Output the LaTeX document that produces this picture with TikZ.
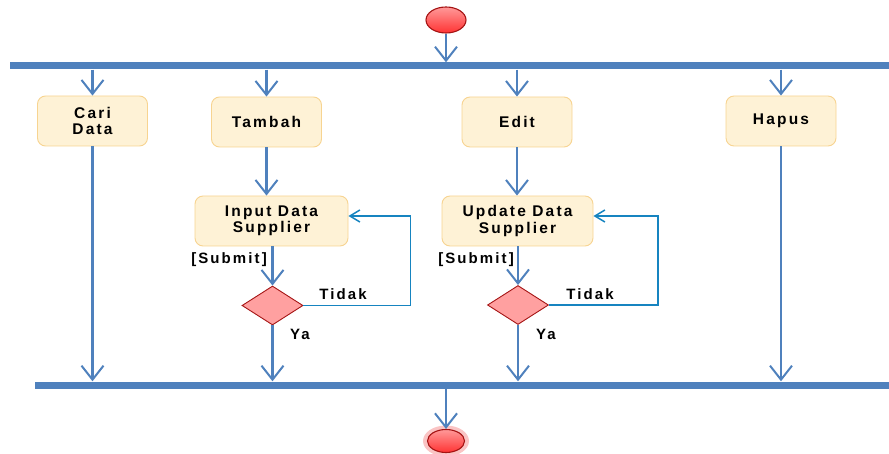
\documentclass[tikz,border=0pt]{standalone}
\usepackage{fontspec}
\usetikzlibrary{shapes.geometric,arrows.meta}
\newfontfamily\diagfont[LetterSpace=14]{Liberation Sans}

\definecolor{barblue}{RGB}{79,129,189}
\definecolor{loopblue}{RGB}{22,132,192}
\definecolor{actfill}{RGB}{254,242,214}
\definecolor{actborder}{RGB}{247,212,145}
\definecolor{decfill}{RGB}{255,160,160}
\definecolor{decborder}{RGB}{165,20,20}
\definecolor{halopink}{RGB}{250,196,196}

\tikzset{
    activity/.style={rectangle, rounded corners=8pt, draw=actborder, fill=actfill, line width=0.9pt,
        minimum width=110pt, minimum height=50pt, align=center, inner sep=2pt,
        font=\diagfont\bfseries\fontsize{15.5}{16.5}\selectfont},
    decision/.style={diamond, draw=decborder, fill=decfill, line width=0.9pt, inner sep=0pt,
        minimum width=61pt, minimum height=39pt},
    syncbar/.style={rectangle, fill=barblue, inner sep=0pt, minimum height=7pt},
    guard/.style={font=\diagfont\bfseries\fontsize{15}{16.5}\selectfont, inner sep=0pt},
    flow/.style={draw=barblue, line width=2.2pt, -{Straight Barb[length=14pt,width=22pt,line width=2pt]}},
    retry/.style={draw=loopblue, line width=1.5pt, -{Straight Barb[length=10pt,width=12pt,line width=1.5pt]}},
    terminal/.style={ellipse, draw=decborder, line width=1.1pt, top color=red!40, bottom color=red!80!white, inner sep=0pt}
}

\begin{document}
\begin{tikzpicture}[x=1pt,y=-1pt]
    \useasboundingbox (0,0) rectangle (889,454);

    % start and fork
    \node[terminal, minimum width=40pt, minimum height=26pt] (start) at (446,20) {};
    \node[syncbar, minimum width=879pt] (fork) at (449.5,66) {};

    % activities
    \node[activity] (cari) at (92.5,121) {Cari\\Data};
    \node[activity] (tambah) at (266.5,122) {Tambah};
    \node[activity, minimum width=153pt] (input) at (271.5,221) {Input Data\\Supplier};
    \node[activity] (edit) at (517,122) {Edit};
    \node[activity, minimum width=151pt] (update) at (517.5,221) {Update Data\\Supplier};
    \node[activity] (hapus) at (781,121) {Hapus};

    % decisions
    \node[decision] (cekinput) at (272.5,305.5) {};
    \node[decision] (cekupdate) at (518,305) {};

    % join and end
    \node[syncbar, minimum width=854pt] (join) at (462,385) {};
    \node[ellipse, fill=halopink, minimum width=46pt, minimum height=31pt] (endhalo) at (446,441) {};
    \node[terminal, minimum width=37pt, minimum height=23pt] (final) at (446,441) {};

    % guards
    \node[guard, anchor=east] (submitinput) at (267,260) {[Submit]};
    \node[guard] (tidakinput) at (343,294) {Tidak};
    \node[guard] (yainput) at (300,334) {Ya};
    \node[guard, anchor=east] (submitupdate) at (514,260) {[Submit]};
    \node[guard] (tidakupdate) at (590,294) {Tidak};
    \node[guard] (yaupdate) at (546,334) {Ya};

    % flows
    \draw[flow] (start.south) -- (start.south |- fork.north);
    \draw[flow] (fork.south -| cari.north) -- (cari.north);
    \draw[flow] (fork.south -| tambah.north) -- (tambah.north);
    \draw[flow] (fork.south -| edit.north) -- (edit.north);
    \draw[flow] (fork.south -| hapus.north) -- (hapus.north);

    \draw[flow] (tambah.south) -- (tambah.south |- input.north);
    \draw[flow] (cekinput.north |- input.south) -- (cekinput.north);
    \draw[retry] (cekinput.east) -- ++(107,0) |- ([yshift=5pt]input.east);
    \draw[flow] (cekinput.south) -- (cekinput.south |- join.north);

    \draw[flow] (edit.south) -- (edit.south |- update.north);
    \draw[flow] (cekupdate.north |- update.south) -- (cekupdate.north);
    \draw[retry] (cekupdate.east) -- ++(109,0) |- ([yshift=5pt]update.east);
    \draw[flow] (cekupdate.south) -- (cekupdate.south |- join.north);

    \draw[flow] (cari.south) -- (cari.south |- join.north);
    \draw[flow] (hapus.south) -- (hapus.south |- join.north);

    \draw[flow] (join.south -| final.north) -- (final.north);
\end{tikzpicture}
\end{document}
